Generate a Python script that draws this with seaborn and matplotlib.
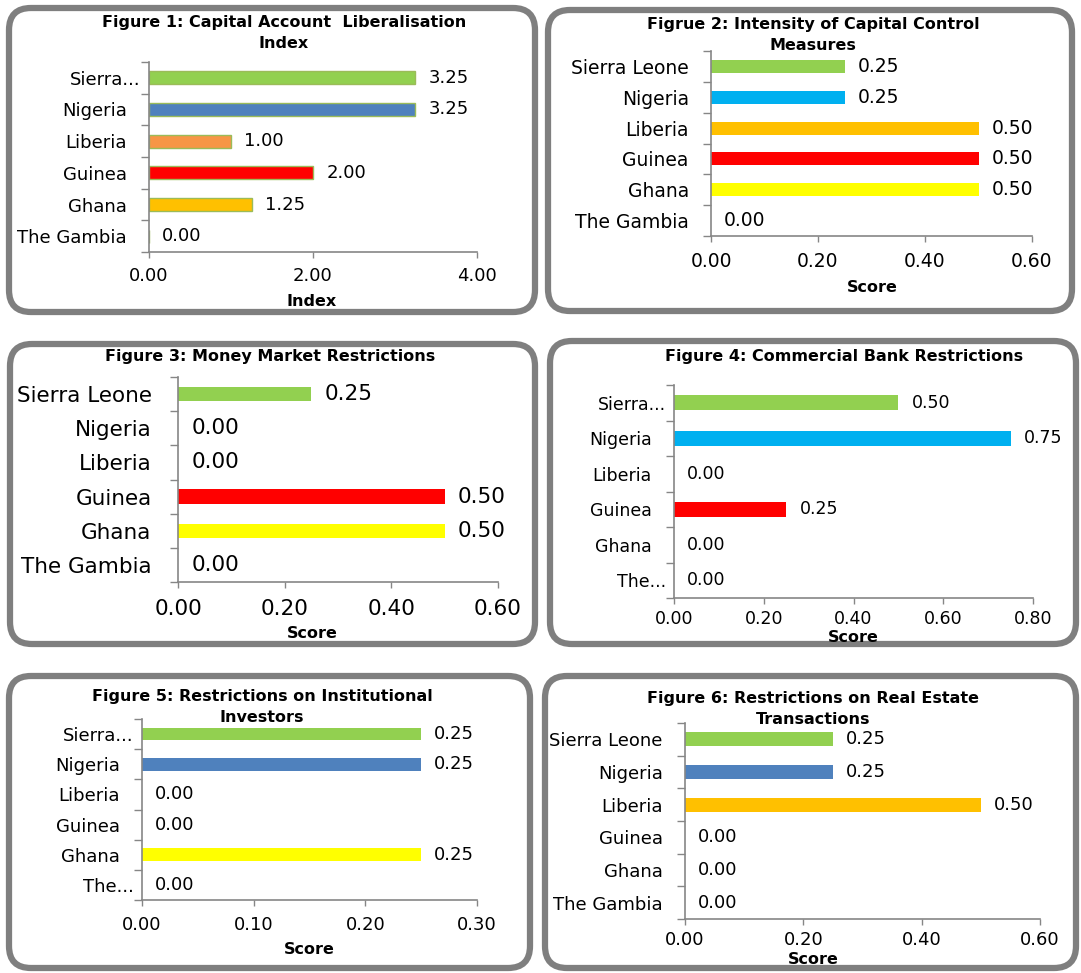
import numpy as np
import matplotlib
matplotlib.use("Agg")
import matplotlib.pyplot as plt
from matplotlib.patches import FancyBboxPatch
from matplotlib.transforms import IdentityTransform, ScaledTranslation
import seaborn as sns

sns.set_style("white")
plt.rcParams['font.family'] = ['DejaVu Sans']
plt.rcParams['text.color'] = 'black'
plt.rcParams['xtick.labelcolor'] = 'black'
plt.rcParams['ytick.labelcolor'] = 'black'

W, H = 1081, 973

countries = ['Sierra Leone', 'Nigeria', 'Liberia', 'Guinea', 'Ghana', 'The Gambia']

cal_index = [3.25, 3.25, 1.00, 2.00, 1.25, 0.00]
control_intensity = [0.25, 0.25, 0.50, 0.50, 0.50, 0.00]
money_market = [0.25, 0.00, 0.00, 0.50, 0.50, 0.00]
commercial_bank = [0.50, 0.75, 0.00, 0.25, 0.00, 0.00]
institutional = [0.25, 0.25, 0.00, 0.00, 0.25, 0.00]
real_estate = [0.25, 0.25, 0.50, 0.00, 0.00, 0.00]

labels_short = ['Sierra...', 'Nigeria', 'Liberia', 'Guinea', 'Ghana', 'The...']
labels_1 = ['Sierra...', 'Nigeria', 'Liberia', 'Guinea', 'Ghana', 'The Gambia']

colors_1 = ['#92D050', '#4F81BD', '#F79646', '#FF0000', '#FFC000', '#FFC000']
colors_2 = ['#92D050', '#00B0F0', '#FFC000', '#FF0000', '#FFFF00', '#FFFF00']
colors_5 = ['#92D050', '#4F81BD', '#FFC000', '#FF0000', '#FFFF00', '#FFFF00']

titles = [
    ['Figure 1: Capital Account  Liberalisation', 'Index'],
    ['Figrue 2: Intensity of Capital Control', 'Measures'],
    ['Figure 3: Money Market Restrictions'],
    ['Figure 4: Commercial Bank Restrictions'],
    ['Figure 5: Restrictions on Institutional', 'Investors'],
    ['Figure 6: Restrictions on Real Estate', 'Transactions'],
]
xlabels = ['Index', 'Score', 'Score', 'Score', 'Score', 'Score']
xticks = [[0, 2, 4], [0, 0.2, 0.4, 0.6], [0, 0.2, 0.4, 0.6],
          [0, 0.2, 0.4, 0.6, 0.8], [0, 0.1, 0.2, 0.3], [0, 0.2, 0.4, 0.6]]

panels = [
    dict(vals=cal_index, labels=labels_1, colors=colors_1, edge='#9BBB59',
         ax=(149, 62, 477, 252), box=(9, 8, 535, 312), fs=13, ypad=16,
         title_xy=(284, [23, 43]), xl_xy=(312, 301), tick_off=22),
    dict(vals=control_intensity, labels=countries, colors=colors_2, edge=None,
         ax=(711, 51, 1032, 236), box=(548, 10, 1072, 311), fs=13.5, ypad=16,
         title_xy=(813, [25, 46]), xl_xy=(872, 287), tick_off=23),
    dict(vals=money_market, labels=countries, colors=colors_2, edge=None,
         ax=(178, 377, 498, 582), box=(10, 344, 535, 644), fs=15.5, ypad=19,
         title_xy=(270, [357]), xl_xy=(312, 633), tick_off=25),
    dict(vals=commercial_bank, labels=labels_short, colors=colors_2, edge=None,
         ax=(674, 385, 1033, 598), box=(550, 341, 1076, 644), fs=12.5, ypad=16,
         title_xy=(844, [356]), xl_xy=(853, 638), tick_off=19),
    dict(vals=institutional, labels=labels_short, colors=colors_5, edge=None,
         ax=(142, 719, 477, 900), box=(9, 676, 530, 968), fs=13, ypad=16,
         title_xy=(262, [696, 717]), xl_xy=(309, 949), tick_off=23),
    dict(vals=real_estate, labels=countries, colors=colors_5, edge=None,
         ax=(685, 723, 1040, 919), box=(545, 676, 1076, 968), fs=13, ypad=16,
         title_xy=(813, [698, 720]), xl_xy=(813, 960), tick_off=19),
]

fig = plt.figure(figsize=(W / 100, H / 100), dpi=100)
fig.patch.set_facecolor('white')
grey = '#868686'
shift = ScaledTranslation(10 / 72, 0, fig.dpi_scale_trans)

for i, p in enumerate(panels):
    l, t, r, b = p['box']
    fig.add_artist(FancyBboxPatch((l, H - b), r - l, b - t,
                                  boxstyle='round,pad=0,rounding_size=22',
                                  transform=IdentityTransform(), fill=False,
                                  ec='#7F7F7F', lw=4.5))

    l, t, r, b = p['ax']
    ax = fig.add_axes([l / W, 1 - b / H, (r - l) / W, (b - t) / H])
    pal = dict(zip(countries, p['colors']))
    sns.barplot(x=p['vals'], y=countries, hue=countries, palette=pal,
                orient='h', width=0.42, saturation=1, legend=False, ax=ax,
                edgecolor=p['edge'] if p['edge'] else 'none',
                linewidth=1 if p['edge'] else 0)
    fs = p['fs']
    for c in ax.containers:
        ax.bar_label(c, fmt='%.2f', padding=9.5, fontsize=fs, color='black')

    ax.set_xlim(xticks[i][0], xticks[i][-1])
    ax.set_ylim(5.5, -0.5)
    ax.set_xticks(xticks[i], labels=['%.2f' % v for v in xticks[i]])
    ax.set_yticks(range(6), labels=p['labels'])
    ax.set_yticks(np.arange(-0.5, 6.0, 1), minor=True)
    ax.set_xlabel('')
    ax.set_ylabel('')

    em = fs * 100 / 72
    pad = max((p['tick_off'] - 6 - 0.4 * em) * 0.72, 0)
    ax.tick_params(axis='x', length=4.5, width=1, color=grey, pad=pad,
                   labelsize=fs, direction='out', bottom=True)
    ax.tick_params(axis='y', which='major', length=0, pad=p['ypad'], labelsize=fs)
    ax.tick_params(axis='y', which='minor', length=5.5, width=1, color=grey,
                   direction='out', left=True)
    for s in ['top', 'right']:
        ax.spines[s].set_visible(False)
    for s in ['left', 'bottom']:
        ax.spines[s].set_color(grey)
        ax.spines[s].set_linewidth(1.2)
    ax.grid(False)

    # truncated category names sit closer to the axis, as in the original
    for lab in ax.get_yticklabels():
        if lab.get_text().endswith('...'):
            lab.set_transform(lab.get_transform() + shift)

    tx, tys = p['title_xy']
    for line, ty in zip(titles[i], tys):
        fig.text(tx / W, 1 - ty / H, line, ha='center', va='center',
                 fontsize=11.5, fontweight='bold')
    xx, xy = p['xl_xy']
    fig.text(xx / W, 1 - xy / H, xlabels[i], ha='center', va='center',
             fontsize=11.5, fontweight='bold')

fig.savefig('out.png', dpi=100, facecolor='white')
